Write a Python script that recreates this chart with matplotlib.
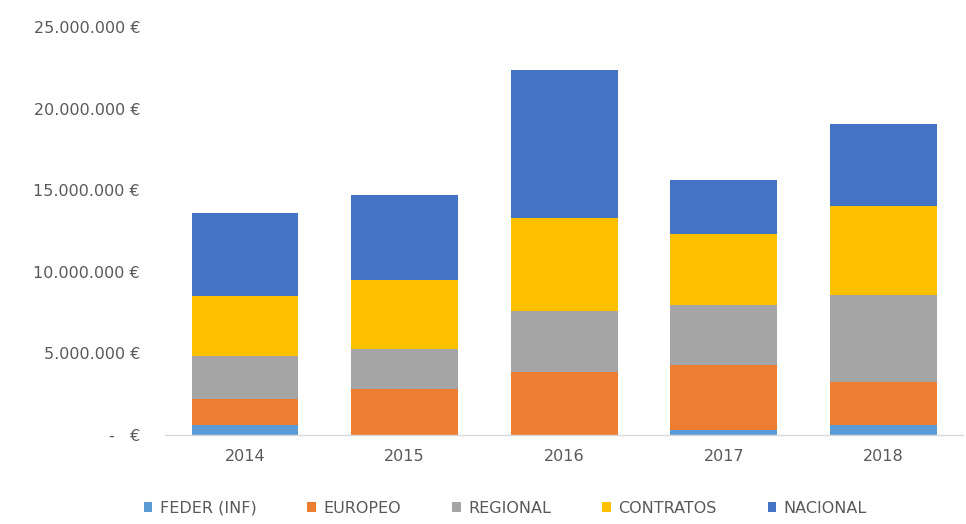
import matplotlib
matplotlib.use("Agg")
import matplotlib.pyplot as plt
from matplotlib.ticker import FuncFormatter
import numpy as np

years = ["2014", "2015", "2016", "2017", "2018"]
feder = [0.6e6, 0.0, 0.0, 0.3e6, 0.6e6]
europeo = [1.6e6, 2.8e6, 3.85e6, 3.98e6, 2.64e6]
regional = [2.65e6, 2.5e6, 3.75e6, 3.67e6, 5.32e6]
contratos = [3.65e6, 4.2e6, 5.7e6, 4.4e6, 5.51e6]
nacional = [5.1e6, 5.2e6, 9.1e6, 3.3e6, 5.01e6]

series_names = ["FEDER (INF)", "EUROPEO", "REGIONAL", "CONTRATOS", "NACIONAL"]
series_values = [feder, europeo, regional, contratos, nacional]
colors = ["#5B9BD5", "#ED7D31", "#A5A5A5", "#FFC000", "#4472C4"]

plt.rcParams['font.family'] = ['DejaVu Sans']

fig = plt.figure(figsize=(9.66, 5.24), dpi=100)
ax = fig.add_axes([0.171, 0.1698, 0.826, 0.778])

x = np.arange(len(years))
bottom = np.zeros(len(years))
handles = []
for name, vals, c in zip(series_names, series_values, colors):
    vals = np.array(vals)
    h = ax.bar(x, vals, width=0.67, bottom=bottom, color=c, label=name, zorder=2)
    handles.append(h)
    bottom += vals

ax.set_xlim(-0.5, 4.5)
ax.set_ylim(0, 25e6)
ax.set_yticks(np.arange(0, 25e6 + 1, 5e6))

def fmt(v, pos):
    if v == 0:
        return "-   €"
    return f"{int(v):,}".replace(",", ".") + " €"

ax.yaxis.set_major_formatter(FuncFormatter(fmt))
ax.set_xticks(x)
ax.set_xticklabels(years)

for s in ["top", "right", "left"]:
    ax.spines[s].set_visible(False)
ax.spines["bottom"].set_color("#D9D9D9")
ax.spines["bottom"].set_linewidth(1)
ax.tick_params(axis="both", length=0, colors="#595959", labelsize=11.5)
ax.tick_params(axis="y", pad=18)
ax.tick_params(axis="x", pad=10)

leg = fig.legend(handles=handles, labels=series_names, loc="center",
                 bbox_to_anchor=(0.523, 0.03), ncol=5, frameon=False,
                 fontsize=11.5, handlelength=0.55, handleheight=0.55,
                 handletextpad=0.45, columnspacing=3.2)
for t in leg.get_texts():
    t.set_color("#595959")

fig.savefig("out.png", dpi=100)
